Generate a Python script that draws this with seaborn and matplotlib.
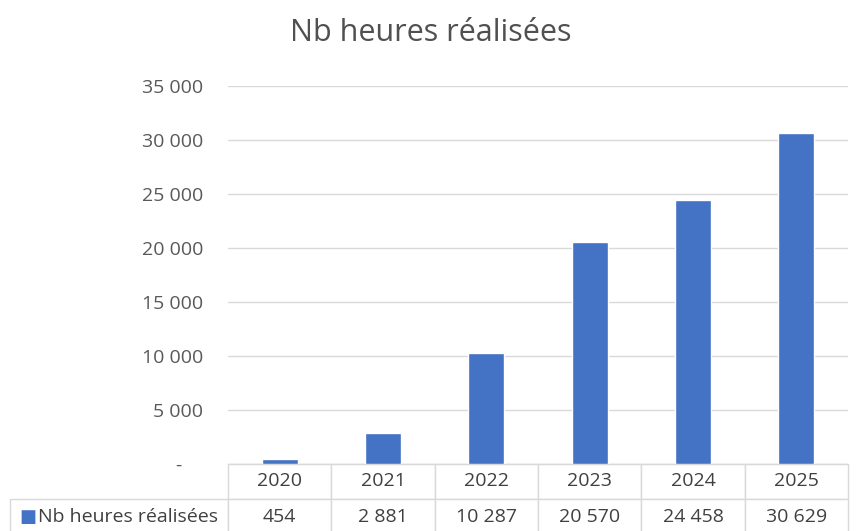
import numpy as np
import pandas as pd
import seaborn as sns
import matplotlib.pyplot as plt
from matplotlib.ticker import FuncFormatter

# data
years = ["2020", "2021", "2022", "2023", "2024", "2025"]
heures = [454, 2881, 10287, 20570, 24458, 30629]
serie = "Nb heures réalisées"

bleu = "#4472C4"
gris_texte = "#595959"
gris_ligne = "#D9D9D9"


def fmt_fr(v, pos=None):
    # excel accounting style: space as thousands separator, "-" for zero
    if v == 0:
        return "-    "
    return "{:,.0f}".format(v).replace(",", " ")


sns.set_style("white")
plt.rcParams['font.family'] = ['Open Sans', 'DejaVu Sans']

df = pd.DataFrame({"annee": years, "heures": heures})

fig = plt.figure(figsize=(8.56, 5.31), dpi=100)
ax = fig.add_axes([228 / 856, 1 - 464 / 531, 620 / 856, 378 / 531])

sns.barplot(data=df, x="annee", y="heures", color=bleu, width=0.35,
            saturation=1, ax=ax, zorder=3)

ax.set_ylim(0, 35000)
ax.set_yticks(np.arange(0, 35001, 5000))
ax.yaxis.set_major_formatter(FuncFormatter(fmt_fr))
ax.grid(axis="y", color=gris_ligne, lw=1, zorder=0)
ax.tick_params(axis="y", length=0, pad=18, labelsize=14, labelcolor=gris_texte)
ax.tick_params(axis="x", length=0, labelbottom=False)
ax.set_xlabel("")
ax.set_ylabel("")
for s in ["top", "right", "left"]:
    ax.spines[s].set_visible(False)
ax.spines["bottom"].set_color(gris_ligne)

# title is centred on the whole picture, not on the plot area
fig.text(431 / 856, 1 - 33 / 531, serie, fontsize=22, color="#505050",
         ha="center", va="center")

# data table under the chart
cell_txt = [[""] + years,
            [""] + [fmt_fr(v) for v in heures]]
lab_w = 218 / 620
col_w = 1 / 6
tbl = ax.table(cellText=cell_txt, colWidths=[lab_w] + [col_w] * 6,
               cellLoc="center",
               bbox=[-lab_w, -70 / 378, 1 + lab_w, 70 / 378])
tbl.auto_set_font_size(False)
for (r, c), cell in tbl.get_celld().items():
    cell.set_edgecolor(gris_ligne)
    cell.set_linewidth(1)
    cell.get_text().set_fontsize(14)
    cell.get_text().set_color("#404040")
    if r == 0 and c == 0:
        cell.visible_edges = ""

# legend key + series name in the first column
y_row = -53 / 378
ax.text(-209 / 620, y_row, "■", transform=ax.transAxes, color=bleu,
        fontsize=13, va="center", ha="left", family=["DejaVu Sans"])
ax.text(-190 / 620, y_row, serie, transform=ax.transAxes, color="#404040",
        fontsize=14, va="center", ha="left")

fig.savefig("out.png", dpi=100)
